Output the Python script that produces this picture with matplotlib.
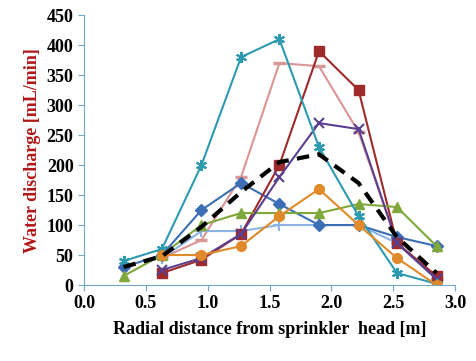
import numpy as np
import matplotlib.pyplot as plt

# radial positions of the catch cans [m]
radius = [0.32, 0.63, 0.95, 1.27, 1.58, 1.90, 2.22, 2.53, 2.85]

# discharge of each test run [mL/min]
run_diamond = [30, 50, 125, 170, 135, 100, 100, 80, 65]
run_square = [None, 20, 42, 85, 200, 390, 325, 70, 15]
run_triangle = [15, 50, 100, 120, 120, 120, 135, 130, 65]
run_cross = [None, 25, 45, 85, 180, 270, 260, 70, 10]
run_star = [40, 60, 200, 380, 410, 230, 115, 20, 2]
run_circle = [None, 50, 50, 65, 115, 160, 100, 45, 0]
run_plus = [None, 45, 90, 90, 100, 100, 100, 70, 10]
run_pink = [None, 45, 75, 180, 370, 365, 255, 70, 10]
mean_run = [30, 48, 97, 155, 205, 218, 170, 80, 20]


def clean(vals):
    return np.array([np.nan if v is None else v for v in vals], dtype=float)


def main():
    plt.rcParams['font.family'] = ['Liberation Serif', 'DejaVu Serif']
    fig = plt.figure(figsize=(4.77, 3.61), dpi=100)
    ax = fig.add_axes([0.176, 0.2105, 0.778, 0.7475])
    r = np.array(radius)

    ax.plot(r, clean(run_pink), color='#D99694', lw=1.5, marker='_', ms=8, mew=2.5)
    ax.plot(r, clean(run_plus), color='#8DB3E2', lw=1.5, marker='+', ms=8, mew=1.5)
    ax.plot(r, clean(run_diamond), color='#3B6EB4', lw=1.5, marker='D', ms=6)
    ax.plot(r, clean(run_square), color='#9E2A2B', lw=1.5, marker='s', ms=7)
    ax.plot(r, clean(run_triangle), color='#7FA83A', lw=1.5, marker='^', ms=7)
    ax.plot(r, clean(run_cross), color='#5B3F8F', lw=1.5, marker='x', ms=7, mew=1.5)
    ax.plot(r, clean(run_star), color='#2E9AB0', lw=1.5, marker=(6, 2, 0), ms=8, mew=1.5)
    ax.plot(r, clean(run_circle), color='#E08A2A', lw=1.5, marker='o', ms=7)
    ax.plot(r, clean(mean_run), color='black', lw=3, ls=(0, (3, 2)))

    ax.set_xlim(0, 3.0)
    ax.set_ylim(0, 450)
    ax.set_xticks(np.arange(0, 3.01, 0.5))
    ax.set_yticks(np.arange(0, 451, 50))
    ax.set_xticklabels(['%.1f' % v for v in np.arange(0, 3.01, 0.5)])
    for s in ['top', 'right']:
        ax.spines[s].set_visible(False)
    for s in ['left', 'bottom']:
        ax.spines[s].set_color('#6FA8C8')
    ax.tick_params(axis='both', colors='#6FA8C8', labelcolor='black',
                   labelsize=13, direction='out', length=4)
    for lab in ax.get_xticklabels() + ax.get_yticklabels():
        lab.set_fontweight('bold')

    ax.set_xlabel('Radial distance from sprinkler  head [m]', fontsize=13,
                  fontweight='bold', labelpad=6)
    ax.set_ylabel('Water discharge [mL/min]', fontsize=13, fontweight='bold',
                  color='#B01818', labelpad=4)

    fig.savefig('out.png', dpi=100)


if __name__ == "__main__":
    main()
